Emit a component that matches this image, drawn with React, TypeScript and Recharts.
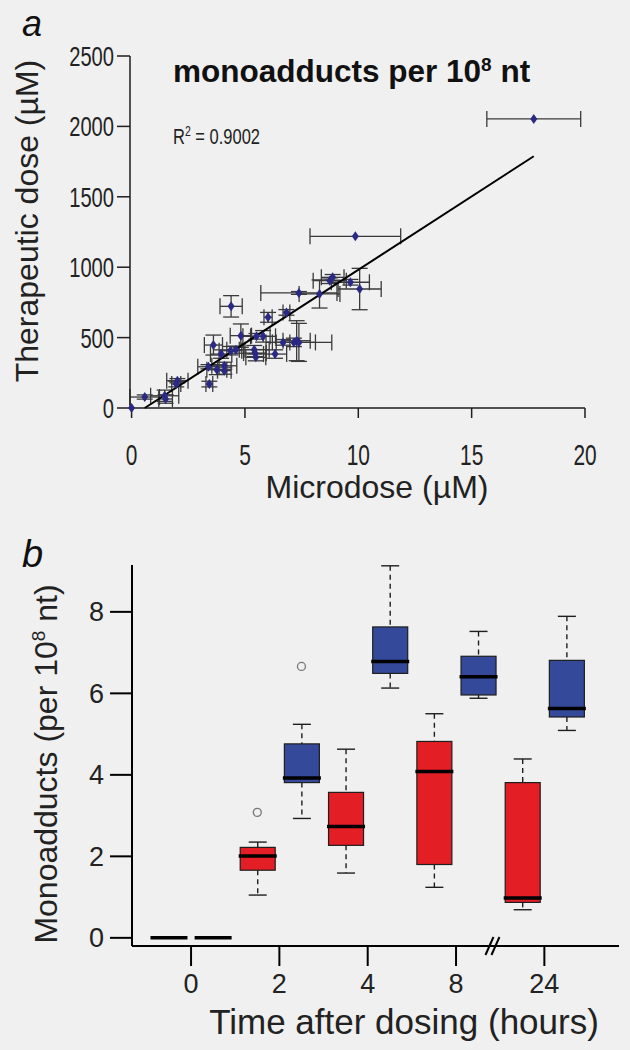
import { Bar, ComposedChart, ErrorBar, ReferenceDot, Scatter, XAxis, YAxis } from 'recharts';

// panel a: microdose vs therapeutic dose (monoadducts per 10^8 nt)
const MICRO = [0, 0.58, 1.46, 1.5, 2.02, 1.97, 3.43, 3.39, 3.61, 3.76, 3.95, 4.09, 4.09, 4.39, 4.36, 4.6, 4.82, 5.41, 5.44, 5.48, 5.51, 5.8, 6.02, 6.33, 6.68, 6.83, 7.16, 7.28, 7.38, 7.38, 8.29, 8.74, 8.87, 9.65, 10.06, 9.87, 17.74];
const THERA = [0, 78, 87, 64, 194, 170, 170, 293, 447, 272, 383, 300, 265, 722, 407, 414, 514, 414, 390, 360, 509, 509, 644, 383, 466, 679, 466, 478, 466, 817, 810, 904, 928, 893, 845, 1219, 2053];
const MICRO_ERR = [0, 0.65, 0.62, 0.3, 0.47, 0.2, 0.15, 0.47, 0.4, 0.44, 0.47, 0.55, 0.3, 0.49, 0.5, 0.4, 0.47, 0.66, 0.5, 0.44, 0.6, 0.55, 0.18, 0.51, 0.3, 0.15, 0.95, 0.6, 1.45, 1.68, 0.9, 0.73, 0.5, 0.84, 0.95, 2.0, 2.07];
const THERA_ERR = [0, 15, 40, 30, 15, 20, 20, 15, 71, 35, 30, 25, 25, 76, 30, 25, 83, 30, 25, 25, 20, 41, 35, 30, 20, 20, 30, 142, 135, 10, 100, 20, 20, 20, 147, 0, 0];
const FIT_X = [0.58, 17.74];
const FIT_Y = [0, 1788];
const A_X_TICKS = [0, 5, 10, 15, 20];
const A_Y_TICKS = [0, 500, 1000, 1500, 2000, 2500];

// panel b: box plots per time point (red, blue)
const TIMES = ['0', '2', '4', '8', '24'];
const RED_LO = [0, 1.05, 1.59, 1.24, 0.69];
const RED_Q1 = [0, 1.66, 2.27, 1.8, 0.87];
const RED_MED = [0, 2.01, 2.73, 4.08, 0.98];
const RED_Q3 = [0, 2.22, 3.57, 4.82, 3.81];
const RED_HI = [0, 2.35, 4.63, 5.5, 4.39];
const BLUE_LO = [0, 2.93, 6.13, 5.88, 5.09];
const BLUE_Q1 = [0, 3.81, 6.49, 5.96, 5.42];
const BLUE_MED = [0, 3.92, 6.78, 6.41, 5.63];
const BLUE_Q3 = [0, 4.76, 7.63, 6.91, 6.81];
const BLUE_HI = [0, 5.24, 9.13, 7.52, 7.89];
const OUTLIER_TIME = [1, 1];
const OUTLIER_GROUP = [0, 1]; // 0 red, 1 blue
const OUTLIER_VAL = [3.08, 6.66];
const B_Y_TICKS = [0, 2, 4, 6, 8];

const RED = '#e31e25';
const BLUE = '#35499b';
const INK = '#1e1e1e';
const BG = '#f0f0f0';
const FONT = "'Liberation Sans', Arial, sans-serif";

const points = MICRO.map((x, i) => ({
  x,
  y: THERA[i],
  ex: MICRO_ERR[i] || null,
  ey: THERA_ERR[i] || null,
}));
const fit = FIT_X.map((x, i) => ({ x, y: FIT_Y[i] }));

const boxes: any[] = [];
const zeros: any[] = [];
TIMES.forEach((t, i) => {
  const sets = [
    [RED, RED_LO, RED_Q1, RED_MED, RED_Q3, RED_HI],
    [BLUE, BLUE_LO, BLUE_Q1, BLUE_MED, BLUE_Q3, BLUE_HI],
  ] as const;
  sets.forEach(([color, lo, q1, med, q3, hi], g) => {
    const row = { pos: i * 2 + g, color, lo: lo[i], q1: q1[i], med: med[i], q3: q3[i], hi: hi[i], range: [lo[i], hi[i]] };
    if (hi[i] === lo[i]) zeros.push({ pos: row.pos, val: row.med });
    else boxes.push(row);
  });
});
const outliers = OUTLIER_VAL.map((v, i) => ({ pos: OUTLIER_TIME[i] * 2 + OUTLIER_GROUP[i], val: v }));

// condensed tick labels like the original (Arial Narrow look)
function NarrowTick(props: any) {
  const { x, y, payload, textAnchor, vertical } = props;
  return (
    <text
      x={x}
      y={y}
      dy={vertical ? '0.355em' : '0.71em'}
      textAnchor={textAnchor}
      fontSize={vertical ? 28 : 29}
      fill="#222"
      fontFamily={FONT}
      transform={`translate(${x} 0) scale(0.72 1) translate(${-x} 0)`}
    >
      {payload.value}
    </text>
  );
}

function Diamond(props: any) {
  const { cx, cy } = props;
  if (cx == null || cy == null) return <g />;
  return <path d={`M${cx},${cy - 5}L${cx + 3.5},${cy}L${cx},${cy + 5}L${cx - 3.5},${cy}Z`} fill="#2a2a85" />;
}

function BoxShape(props: any) {
  const { x, y, width, height, payload } = props;
  const top = Math.min(y, y + height);
  const h = Math.abs(height);
  const { lo, hi, q1, q3, med, color } = payload;
  const py = (v: number) => top + (h * (hi - v)) / (hi - lo);
  const cx = x + width / 2;
  return (
    <g>
      <line x1={cx} x2={cx} y1={py(hi)} y2={py(q3)} stroke={INK} strokeWidth={1.4} strokeDasharray="5 4" />
      <line x1={cx} x2={cx} y1={py(q1)} y2={py(lo)} stroke={INK} strokeWidth={1.4} strokeDasharray="5 4" />
      <line x1={cx - 9} x2={cx + 9} y1={py(hi)} y2={py(hi)} stroke={INK} strokeWidth={1.4} />
      <line x1={cx - 9} x2={cx + 9} y1={py(lo)} y2={py(lo)} stroke={INK} strokeWidth={1.4} />
      <rect x={x} y={py(q3)} width={width} height={py(q1) - py(q3)} fill={color} stroke={INK} strokeWidth={1.2} />
      <line x1={x - 1.5} x2={x + width + 1.5} y1={py(med)} y2={py(med)} stroke="#000" strokeWidth={3.5} />
    </g>
  );
}

export default function App() {
  return (
    <div style={{ position: 'absolute', left: 0, top: 0, width: 630, height: 1050, background: BG, fontFamily: FONT }}>
      <div style={{ position: 'absolute', left: 0, top: 0 }}>
        <ComposedChart width={630} height={520} margin={{ top: 56, right: 45, left: 70, bottom: 82 }}>
          <XAxis
            type="number"
            dataKey="x"
            domain={[0, 20]}
            ticks={A_X_TICKS}
            interval={0}
            tickSize={10}
            tickMargin={26}
            axisLine={{ stroke: INK, strokeWidth: 1.5 }}
            tickLine={{ stroke: INK, strokeWidth: 1.5 }}
            tick={<NarrowTick />}
          />
          <YAxis
            type="number"
            dataKey="y"
            domain={[0, 2500]}
            ticks={A_Y_TICKS}
            interval={0}
            width={60}
            tickSize={13}
            tickMargin={3}
            axisLine={{ stroke: INK, strokeWidth: 1.5 }}
            tickLine={{ stroke: INK, strokeWidth: 1.5 }}
            tick={<NarrowTick vertical />}
          />
          <Scatter data={fit} line={{ stroke: '#000', strokeWidth: 2 }} shape={() => <g />} isAnimationActive={false} />
          <Scatter data={points} shape={Diamond} isAnimationActive={false}>
            <ErrorBar dataKey="ex" direction="x" width={8} stroke="#3a3a3a" strokeWidth={1.3} />
            <ErrorBar dataKey="ey" direction="y" width={8} stroke="#3a3a3a" strokeWidth={1.3} />
          </Scatter>
        </ComposedChart>
      </div>
      <div style={{ position: 'absolute', left: 0, top: 520 }}>
        <ComposedChart width={630} height={530} data={boxes} margin={{ top: 45, right: 11, left: 72, bottom: 74 }}>
          <XAxis
            type="number"
            dataKey="pos"
            domain={[-0.837, 10.19]}
            allowDataOverflow
            ticks={[0.5, 2.5, 4.5, 6.5, 8.5]}
            tickFormatter={(v: number) => TIMES[Math.round((v - 0.5) / 2)]}
            interval={0}
            tickSize={20}
            tickMargin={8}
            axisLine={{ stroke: '#000', strokeWidth: 2 }}
            tickLine={{ stroke: '#000', strokeWidth: 2 }}
            tick={{ fontSize: 27, fill: '#222', fontFamily: FONT }}
          />
          <YAxis
            type="number"
            domain={[-0.2, 9.15]}
            allowDataOverflow
            ticks={B_Y_TICKS}
            interval={0}
            width={60}
            tickSize={22}
            tickMargin={6}
            axisLine={{ stroke: '#000', strokeWidth: 2 }}
            tickLine={{ stroke: '#000', strokeWidth: 2 }}
            tick={{ fontSize: 27, fill: '#222', fontFamily: FONT }}
          />
          <Bar dataKey="range" barSize={35} shape={BoxShape} isAnimationActive={false} />
          <Scatter
            data={zeros}
            dataKey="val"
            shape={(p: any) => <line x1={p.cx - 18.5} x2={p.cx + 18.5} y1={p.cy} y2={p.cy} stroke="#000" strokeWidth={3.5} />}
            isAnimationActive={false}
          />
          <Scatter
            data={outliers}
            dataKey="val"
            shape={(p: any) => <circle cx={p.cx} cy={p.cy} r={4} fill="none" stroke="#777" strokeWidth={1.3} />}
            isAnimationActive={false}
          />
          <ReferenceDot
            x={7.37}
            y={-0.2}
            ifOverflow="visible"
            shape={(p: any) => (
              <g stroke="#000" strokeWidth={2}>
                <line x1={p.cx - 9} y1={p.cy + 9} x2={p.cx - 1} y2={p.cy - 9} />
                <line x1={p.cx - 3} y1={p.cy + 9} x2={p.cx + 5} y2={p.cy - 9} />
              </g>
            )}
          />
        </ComposedChart>
      </div>
      <svg width={630} height={1050} style={{ position: 'absolute', left: 0, top: 0, pointerEvents: 'none' }}>
        <text x={22} y={36} fontSize={36} fontStyle="italic" fill="#111">a</text>
        <text x={173} y={82} fontSize={31.5} fontWeight="bold" fill="#111">
          monoadducts per 10<tspan dy={-11} fontSize={19}>8</tspan>
          <tspan dy={11}> nt</tspan>
        </text>
        <text x={173} y={144} fontSize={22} fill="#222" transform="translate(173 0) scale(0.75 1) translate(-173 0)">
          R<tspan dy={-8} fontSize={14}>2</tspan>
          <tspan dy={8}> = 0.9002</tspan>
        </text>
        <text x={38} y={221} fontSize={32} fill="#222" textAnchor="middle" transform="rotate(-90 38 221)">
          Therapeutic dose (µM)
        </text>
        <text x={377} y={498} fontSize={32} fill="#222" textAnchor="middle">Microdose (µM)</text>
        <text x={22} y={567} fontSize={38} fontStyle="italic" fill="#111">b</text>
        <text x={57} y={764} fontSize={32} fill="#222" textAnchor="middle" transform="rotate(-90 57 764)">
          Monoadducts (per 10<tspan dy={-12} fontSize={19}>8</tspan>
          <tspan dy={12}> nt)</tspan>
        </text>
        <text x={404} y={1034} fontSize={35} fill="#222" textAnchor="middle">Time after dosing (hours)</text>
      </svg>
    </div>
  );
}
